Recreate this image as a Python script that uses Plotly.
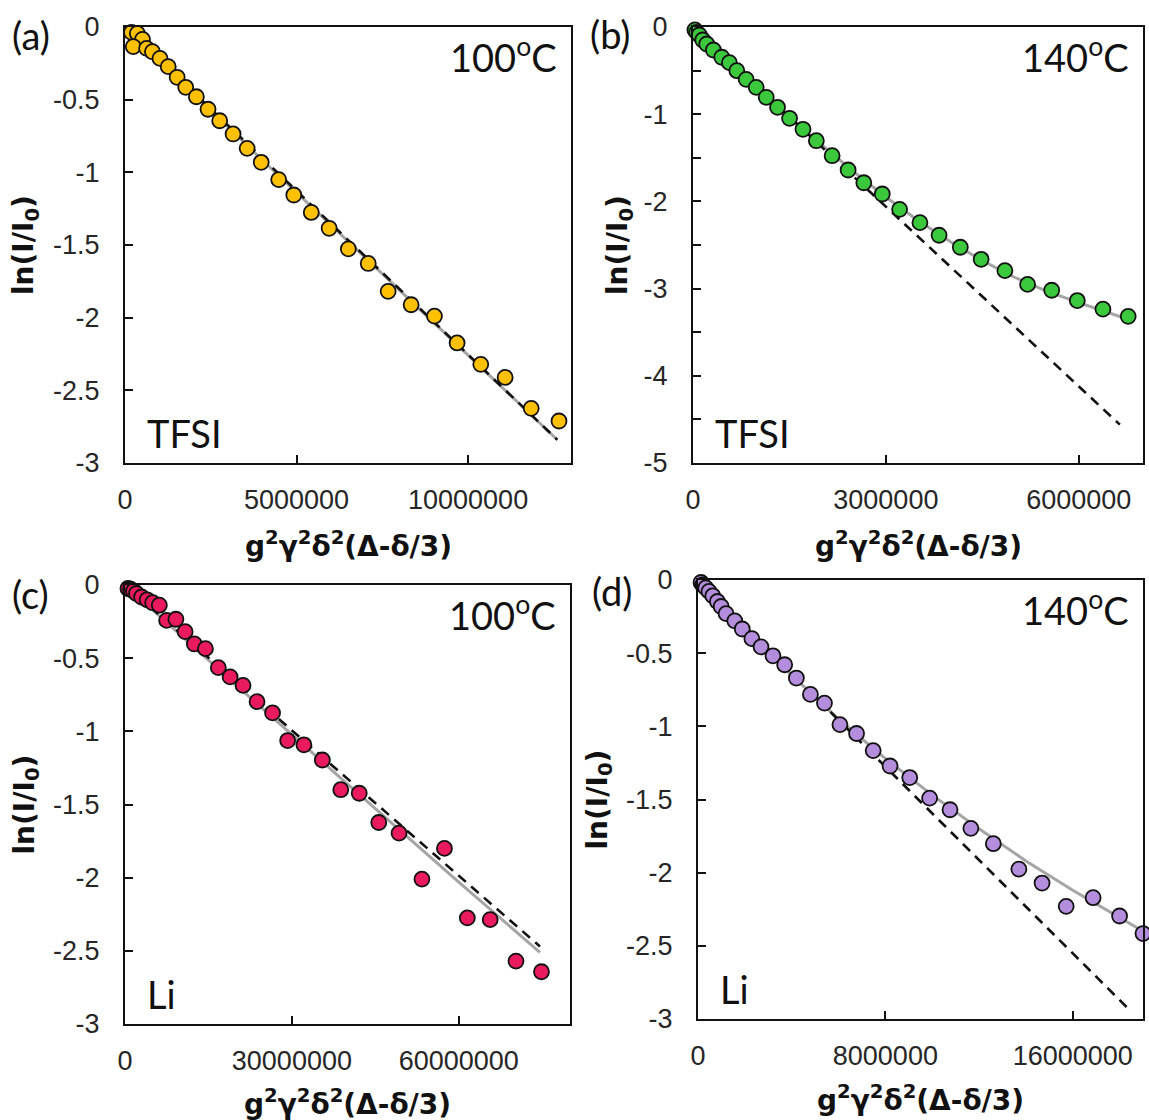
import plotly.graph_objects as go

W, H = 1149, 1120

# ---------------- data (x in raw units, y = ln(I/I0)) ----------------
a_x = [0.19e6, 0.36e6, 0.51e6, 0.24e6, 0.63e6, 0.80e6, 1.02e6, 1.26e6, 1.52e6, 1.77e6,
       2.08e6, 2.42e6, 2.76e6, 3.15e6, 3.56e6, 3.97e6, 4.48e6, 4.92e6, 5.43e6, 5.95e6,
       6.51e6, 7.09e6, 7.67e6, 8.34e6, 9.02e6, 9.68e6, 10.37e6, 11.08e6, 11.84e6, 12.65e6]
a_y = [-0.037, -0.044, -0.085, -0.135, -0.147, -0.170, -0.216, -0.273, -0.346, -0.415,
       -0.480, -0.566, -0.645, -0.736, -0.835, -0.931, -1.050, -1.156, -1.276, -1.385,
       -1.527, -1.627, -1.819, -1.911, -1.989, -2.174, -2.321, -2.411, -2.624, -2.711]
a_fit_x = [0, 4.0e6, 8.0e6, 12.6e6]
a_fit_y = [0, -0.915, -1.81, -2.84]
a_lin_x = [0, 12.6e6]
a_lin_y = [0, -2.84]

b_x = [0.03e6, 0.058e6, 0.098e6, 0.151e6, 0.214e6, 0.317e6, 0.448e6, 0.566e6, 0.682e6, 0.827e6,
       0.983e6, 1.139e6, 1.315e6, 1.502e6, 1.711e6, 1.919e6, 2.164e6, 2.413e6, 2.657e6, 2.944e6,
       3.214e6, 3.530e6, 3.828e6, 4.158e6, 4.482e6, 4.852e6, 5.205e6, 5.580e6, 5.978e6, 6.377e6,
       6.770e6]
b_y = [-0.034, -0.061, -0.092, -0.149, -0.195, -0.264, -0.347, -0.409, -0.501, -0.600,
       -0.692, -0.806, -0.921, -1.047, -1.173, -1.304, -1.476, -1.640, -1.786, -1.915,
       -2.091, -2.244, -2.388, -2.526, -2.664, -2.794, -2.952, -3.019, -3.137, -3.236,
       -3.318]
b_fit_x = [0, 0.5e6, 1.0e6, 1.5e6, 2.0e6, 2.5e6, 3.0e6, 3.5e6, 4.0e6, 4.5e6, 5.0e6, 5.5e6, 6.0e6, 6.5e6, 6.8e6]
b_fit_y = [0, -0.37, -0.71, -1.04, -1.35, -1.66, -1.95, -2.22, -2.46, -2.68, -2.87, -3.03, -3.16, -3.28, -3.36]
b_lin_x = [0, 6.64e6]
b_lin_y = [0, -4.56]

c_x = [0.53e6, 0.99e6, 1.53e6, 2.06e6, 2.98e6, 3.98e6, 4.97e6, 6.17e6, 7.49e6, 9.15e6,
       10.81e6, 12.47e6, 14.46e6, 16.78e6, 18.90e6, 21.22e6, 23.74e6, 26.53e6, 29.24e6, 32.16e6,
       35.48e6, 38.79e6, 42.11e6, 45.62e6, 49.27e6, 53.38e6, 57.43e6, 61.54e6, 65.65e6, 70.29e6,
       74.87e6]
c_y = [-0.024, -0.029, -0.041, -0.058, -0.082, -0.101, -0.121, -0.138, -0.242, -0.234,
       -0.319, -0.403, -0.435, -0.565, -0.628, -0.686, -0.797, -0.874, -1.063, -1.092,
       -1.196, -1.399, -1.423, -1.623, -1.696, -2.010, -1.800, -2.275, -2.287, -2.570,
       -2.643]
c_fit_x = [0, 20e6, 40e6, 60e6, 74.6e6]
c_fit_y = [0, -0.685, -1.36, -2.03, -2.51]
c_lin_x = [0, 74.6e6]
c_lin_y = [0, -2.47]

d_x = [0.13e6, 0.20e6, 0.33e6, 0.47e6, 0.63e6, 0.83e6, 0.99e6, 1.20e6, 1.57e6, 1.89e6,
       2.30e6, 2.69e6, 3.20e6, 3.70e6, 4.20e6, 4.80e6, 5.40e6, 6.06e6, 6.77e6, 7.48e6,
       8.20e6, 9.04e6, 9.89e6, 10.76e6, 11.65e6, 12.61e6, 13.70e6, 14.69e6, 15.72e6, 16.87e6,
       18.00e6, 19.00e6]
d_y = [-0.017, -0.034, -0.054, -0.078, -0.108, -0.147, -0.181, -0.230, -0.279, -0.335,
       -0.401, -0.457, -0.518, -0.579, -0.670, -0.782, -0.841, -0.988, -1.049, -1.166,
       -1.271, -1.350, -1.491, -1.570, -1.697, -1.802, -1.976, -2.071, -2.230, -2.171,
       -2.296, -2.416]
d_fit_x = [0, 2e6, 4e6, 6e6, 8e6, 10e6, 12e6, 14e6, 16e6, 18e6, 19e6]
d_fit_y = [0, -0.34, -0.65, -0.95, -1.22, -1.47, -1.70, -1.92, -2.12, -2.31, -2.40]
d_lin_x = [0, 18.5e6]
d_lin_y = [0, -2.95]

a_xticks = [0, 5000000, 10000000]
b_xticks = [0, 3000000, 6000000]
c_xticks = [0, 30000000, 60000000]
d_xticks = [0, 8000000, 16000000]
y3_ticks = [0, -0.5, -1, -1.5, -2, -2.5, -3]
y3_text = ["0", "-0.5", "-1", "-1.5", "-2", "-2.5", "-3"]
y5_ticks = [0, -0.5, -1, -1.5, -2, -2.5, -3, -3.5, -4, -4.5, -5]
y5_text = ["0", "", "-1", "", "-2", "", "-3", "", "-4", "", "-5"]

panels = [
    dict(name="a", x=a_x, y=a_y, fx=a_fit_x, fy=a_fit_y, lx=a_lin_x, ly=a_lin_y, color="#FFC000",
         xmax=13e6, ymin=-3, xt=a_xticks, yt=y3_ticks, ytt=y3_text,
         box=(125, 571, 27, 463), temp="100", ion="TFSI", ytx=25, labx=10, laby=35, xty=545),
    dict(name="b", x=b_x, y=b_y, fx=b_fit_x, fy=b_fit_y, lx=b_lin_x, ly=b_lin_y, color="#3CC83C",
         xmax=7e6, ymin=-5, xt=b_xticks, yt=y5_ticks, ytt=y5_text,
         box=(693, 1143, 27, 463), temp="140", ion="TFSI", ytx=619, labx=588, laby=34, xty=545),
    dict(name="c", x=c_x, y=c_y, fx=c_fit_x, fy=c_fit_y, lx=c_lin_x, ly=c_lin_y, color="#EA1A5E",
         xmax=80e6, ymin=-3, xt=c_xticks, yt=y3_ticks, ytt=y3_text,
         box=(125, 570, 585, 1024), temp="100", ion="Li", ytx=26, labx=10, laby=594, xty=1102),
    dict(name="d", x=d_x, y=d_y, fx=d_fit_x, fy=d_fit_y, lx=d_lin_x, ly=d_lin_y, color="#B48EDC",
         xmax=19e6, ymin=-3, xt=d_xticks, yt=y3_ticks, ytt=y3_text,
         box=(698, 1143, 580, 1019), temp="140", ion="Li", ytx=599, labx=590, laby=591, xty=1098),
]

fig = go.Figure()
annotations = []
TICKFONT = dict(family="Liberation Sans, Arial, sans-serif", size=27, color="#262626")
LABFONT = dict(family="Lato, Carlito, sans-serif", size=38, color="#111111")
TITLEFONT = dict(family="DejaVu Sans, sans-serif", size=28, color="#111111")


def px(x):
    return x / W


def py(y):
    return 1 - y / H


for i, p in enumerate(panels):
    n = "" if i == 0 else str(i + 1)
    xa, ya = "x" + n, "y" + n
    L, R, T, B = p["box"]
    fig.add_trace(go.Scatter(x=p["fx"], y=p["fy"], mode="lines", xaxis=xa, yaxis=ya,
                             line=dict(color="#A5A5A5", width=3), showlegend=False, hoverinfo="skip"))
    fig.add_trace(go.Scatter(x=p["lx"], y=p["ly"], mode="lines", xaxis=xa, yaxis=ya,
                             line=dict(color="#111111", width=2.6, dash="10px,7px"), showlegend=False,
                             hoverinfo="skip"))
    fig.add_trace(go.Scatter(x=p["x"], y=p["y"], mode="markers", xaxis=xa, yaxis=ya, cliponaxis=False,
                             marker=dict(size=15, color=p["color"], line=dict(color="#111111", width=1.8)),
                             showlegend=False))
    common = dict(showline=True, linecolor="#111111", linewidth=2, mirror=True, ticks="inside",
                  ticklen=8, tickwidth=2, tickcolor="#111111", showgrid=False, zeroline=False,
                  tickfont=TICKFONT, automargin=False)
    fig.update_layout(**{
        ("xaxis" + n): dict(domain=[px(L), px(R)], range=[0, p["xmax"]], anchor=ya,
                            tickvals=p["xt"], ticktext=[str(v) for v in p["xt"]],
                            ticklabelstandoff=12, **common),
        ("yaxis" + n): dict(domain=[py(B), py(T)], range=[p["ymin"], 0], anchor=xa,
                            tickvals=p["yt"], ticktext=p["ytt"], ticklabelstandoff=18, **common),
    })
    cx = (L + R) / 2
    cy = (T + B) / 2
    annotations += [
        dict(x=px(cx), y=py(p["xty"]), text="<b>g<sup>2</sup>γ<sup>2</sup>δ<sup>2</sup>(Δ-δ/3)</b>",
             font=TITLEFONT, showarrow=False, xanchor="center", yanchor="middle"),
        dict(x=px(p["ytx"]), y=py(cy), text="<b>ln(I/I<sub>0</sub>)</b>", textangle=-90,
             font=TITLEFONT, showarrow=False, xanchor="center", yanchor="middle"),
        dict(x=px(p["labx"]), y=py(p["laby"]), text="(" + p["name"] + ")", font=LABFONT,
             showarrow=False, xanchor="left", yanchor="middle"),
        dict(x=px(R - 12), y=py(T + 28), text=p["temp"] + "<sup>o</sup>C", font=LABFONT,
             showarrow=False, xanchor="right", yanchor="middle"),
        dict(x=px(L + 20), y=py(B - 30), text=p["ion"], font=LABFONT,
             showarrow=False, xanchor="left", yanchor="middle"),
    ]

for ann in annotations:
    ann["xref"] = "paper"
    ann["yref"] = "paper"

fig.update_layout(template="none", width=W, height=H, margin=dict(l=0, r=0, t=0, b=0, autoexpand=False),
                  paper_bgcolor="white", plot_bgcolor="white", annotations=annotations)
fig.write_html("out.html", config={"displayModeBar": False},
               post_script="document.body.style.margin='0px';document.body.style.overflow='hidden';")
